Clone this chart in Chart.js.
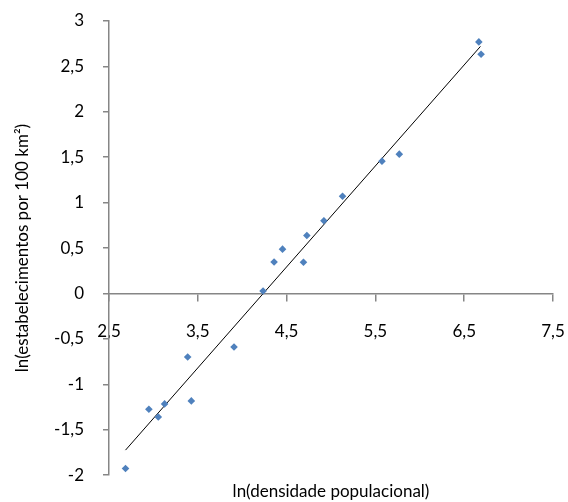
<!DOCTYPE html>
<html>
<head>
<meta charset="utf-8">
<title>ln(estabelecimentos) x ln(densidade)</title>
<script src="https://cdn.jsdelivr.net/npm/chart.js@4.4.0/dist/chart.umd.min.js"></script>
<style>
  html, body { margin: 0; padding: 0; background: #ffffff; }
  #wrap { width: 568px; height: 502px; }
</style>
</head>
<body>
<div id="wrap"><canvas id="chart" width="568" height="502"></canvas></div>
<script>
var lnDensidade = [2.686, 2.949, 3.055, 3.126, 3.386, 3.427, 3.908, 4.235, 4.359,
  4.454, 4.69, 4.728, 4.92, 5.13, 5.574, 5.769, 6.665, 6.69];
var lnEstab = [-1.928, -1.275, -1.36, -1.216, -0.70, -1.183, -0.59, 0.027, 0.347,
  0.488, 0.344, 0.638, 0.80, 1.07, 1.457, 1.534, 2.77, 2.634];

// linear trend line end points
var trendX = [2.686, 6.683];
var trendY = [-1.725, 2.72];

// axes
var xTicks = [2.5, 3.5, 4.5, 5.5, 6.5, 7.5];
var xTickLabels = ["2,5", "3,5", "4,5", "5,5", "6,5", "7,5"];
var yTicks = [-2, -1.5, -1, -0.5, 0, 0.5, 1, 1.5, 2, 2.5, 3];
var yTickLabels = ["-2", "-1,5", "-1", "-0,5", "0", "0,5", "1", "1,5", "2", "2,5", "3"];

var xTitle = "ln(densidade populacional)";
var yTitle = "ln(estabelecimentos por 100 km\u00b2)";

var FONT = "Lato, 'Open Sans', sans-serif";
var FONT_SIZE = 17;
var AXIS_GREY = "#868686";

function toPoints(xs, ys) {
  return xs.map(function (x, i) {
    return { x: x, y: ys[i] };
  });
}

function fixedTicks(values) {
  return function (scale) {
    scale.ticks = values.map(function (v) {
      return { value: v };
    });
  };
}

// labels hanging over the plot edges should not shrink the plot area
function noLabelPadding(scale) {
  scale.paddingTop = 0;
  scale.paddingBottom = 0;
  scale.paddingLeft = 0;
  scale.paddingRight = 0;
}

new Chart(document.getElementById("chart").getContext("2d"), {
  type: "scatter",
  data: {
    datasets: [
      {
        label: "pontos",
        data: toPoints(lnDensidade, lnEstab),
        pointStyle: "rectRot",
        pointRadius: 3.8,
        pointBorderWidth: 0,
        backgroundColor: "#4f81bd",
        borderColor: "#4f81bd",
        order: 1,
      },
      {
        label: "tendencia",
        type: "line",
        data: toPoints(trendX, trendY),
        borderColor: "#000000",
        borderWidth: 1,
        pointRadius: 0,
        fill: false,
        order: 2,
      },
    ],
  },
  options: {
    responsive: false,
    animation: false,
    layout: { padding: { top: 21, right: 15, bottom: 0, left: 0 } },
    plugins: {
      legend: { display: false },
      tooltip: { enabled: false },
    },
    scales: {
      x: {
        type: "linear",
        position: { y: 0 },
        min: 2.5,
        max: 7.5,
        afterBuildTicks: fixedTicks(xTicks),
        afterFit: noLabelPadding,
        grid: {
          drawOnChartArea: false,
          drawTicks: true,
          tickLength: 7,
          color: AXIS_GREY,
          lineWidth: 1.5,
        },
        border: { color: AXIS_GREY, width: 1.5 },
        ticks: {
          padding: 21,
          maxRotation: 0,
          color: "#000000",
          font: { family: FONT, size: FONT_SIZE },
          callback: function (v, i) {
            return xTickLabels[i];
          },
        },
      },
      x2: {
        type: "linear",
        position: "bottom",
        min: 2.5,
        max: 7.5,
        afterFit: noLabelPadding,
        grid: { display: false, drawTicks: false },
        border: { display: false },
        ticks: { display: false },
        title: {
          display: true,
          text: xTitle,
          color: "#000000",
          font: { family: FONT, size: FONT_SIZE },
          padding: { top: 6, bottom: 0.5 },
        },
      },
      y: {
        type: "linear",
        position: "left",
        min: -2,
        max: 3,
        afterBuildTicks: fixedTicks(yTicks),
        afterFit: function (scale) {
          noLabelPadding(scale);
          scale.width = 109;
        },
        grid: {
          drawOnChartArea: false,
          drawTicks: true,
          tickLength: 6,
          color: AXIS_GREY,
          lineWidth: 1.5,
        },
        border: { color: AXIS_GREY, width: 1.5 },
        ticks: {
          padding: 19,
          color: "#000000",
          font: { family: FONT, size: FONT_SIZE },
          callback: function (v, i) {
            return yTickLabels[i];
          },
        },
        title: {
          display: true,
          text: yTitle,
          color: "#000000",
          font: { family: FONT, size: FONT_SIZE },
          padding: { top: 12, bottom: 0 },
        },
      },
    },
  },
});
</script>
</body>
</html>
